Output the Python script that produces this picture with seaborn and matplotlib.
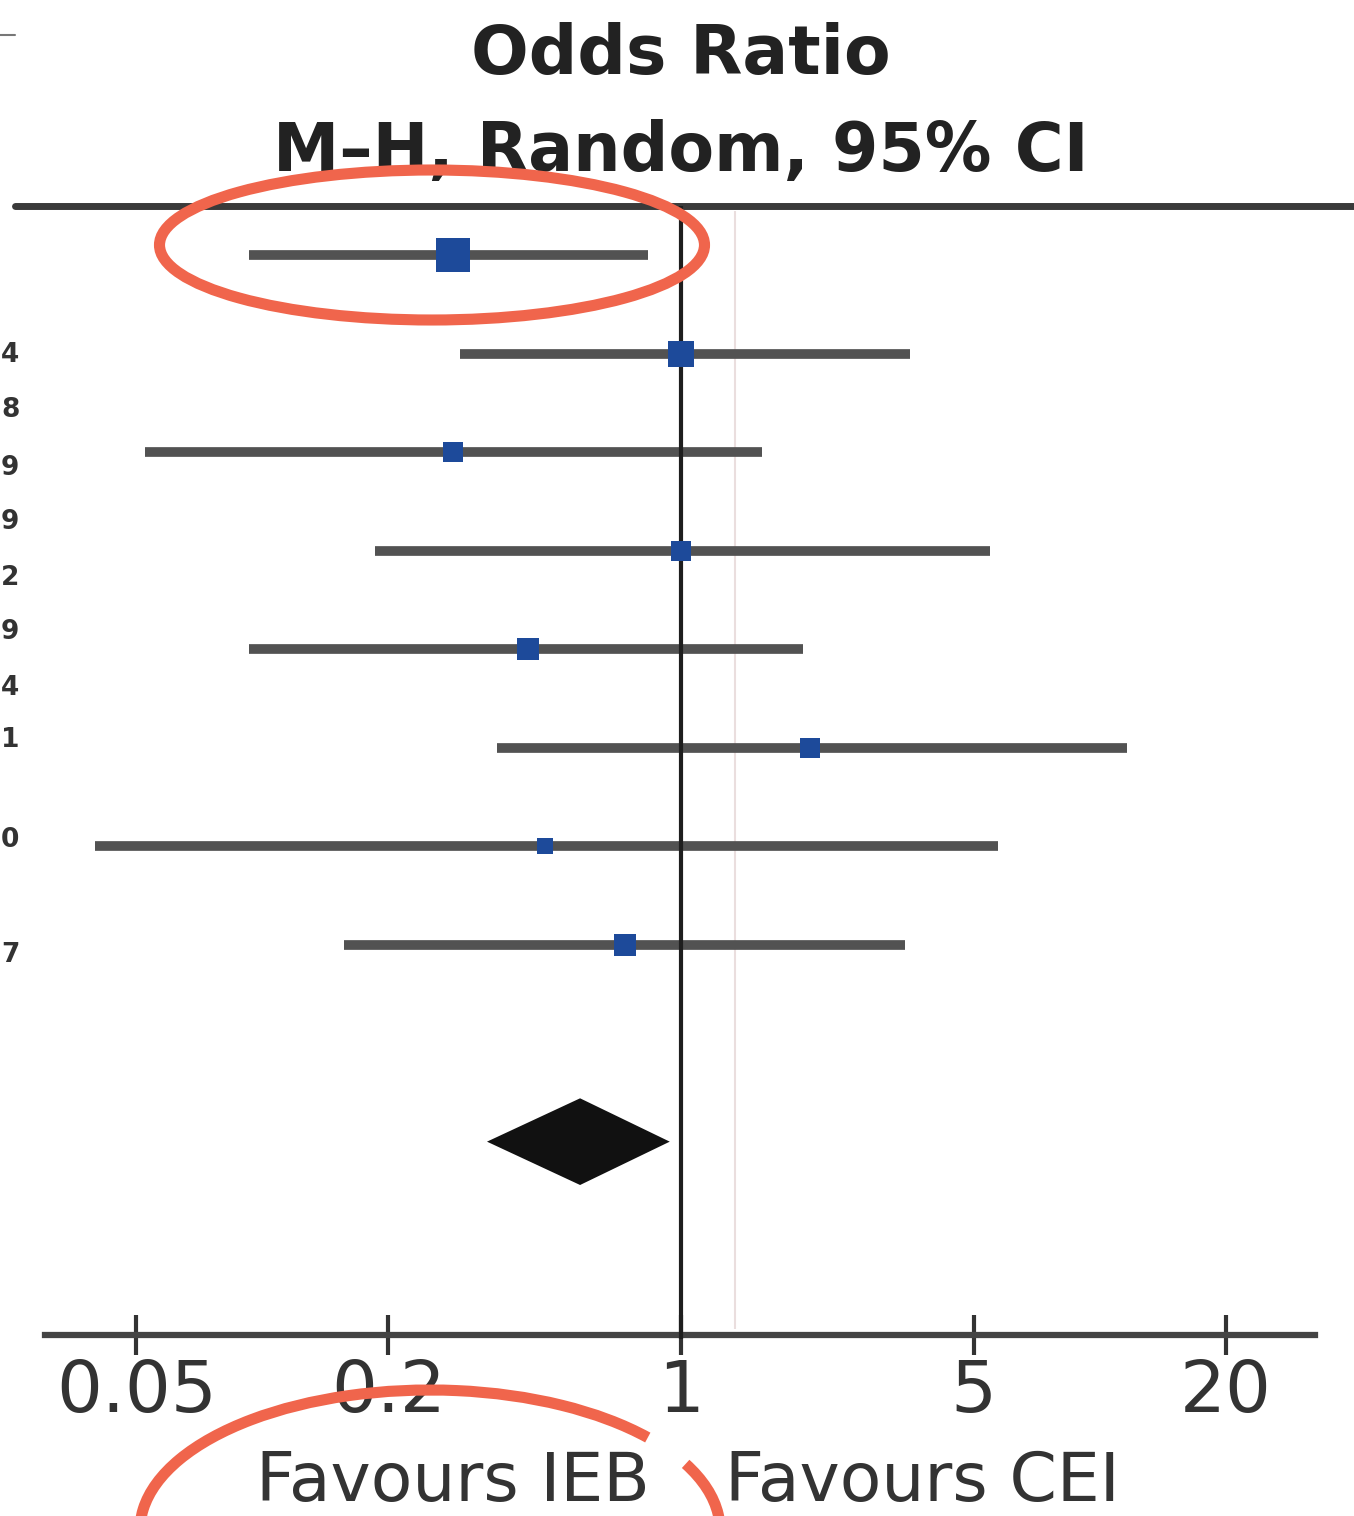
import numpy as np
import pandas as pd
import matplotlib
matplotlib.use('Agg')
import matplotlib.pyplot as plt
from matplotlib.patches import Ellipse, Arc
import seaborn as sns

# dados (odds ratio e IC 95%)
or_est = [0.285, 1.00, 0.285, 1.00, 0.431, 2.03, 0.473, 0.735]
ci_low = [0.093, 0.297, 0.0524, 0.186, 0.093, 0.363, 0.0398, 0.157]
ci_high = [0.834, 3.52, 1.56, 5.47, 1.96, 11.6, 5.72, 3.43]
weights = [27.2, 15.9, 9.4, 9.4, 11.4, 9.4, 6.0, 11.4]

pooled = [0.344, 0.574, 0.94]  # limite inferior, estimativa, limite superior

tick_vals = [0.05, 0.2, 1, 5, 20]
tick_labels = ['0.05', '0.2', '1', '5', '20']
left_digits = ['4', '8', '9', '9', '2', '9', '4', '1', '0', '7']

df = pd.DataFrame({'row': np.arange(len(or_est)), 'or': or_est,
                   'lo': ci_low, 'hi': ci_high, 'weight': weights})

sns.set_style('white')
plt.rcParams['font.family'] = ['DejaVu Sans']

fig = plt.figure(figsize=(13.54, 15.16), dpi=100)
ax = fig.add_axes([0, 0, 1, 1])
ax.set_xscale('log')
ax.set_xlim(10 ** (-681 / 418.6), 10 ** ((1354 - 681) / 418.6))
ax.set_ylim(12.80, -2.589)

# linhas dos intervalos
ax.hlines(df['row'], df['lo'], df['hi'], color='#525252', lw=7, zorder=2)

# linha de nulidade
ax.vlines(1, -0.5, 11, color='#1e1e1e', lw=3, zorder=3)
ax.vlines(1.346, -0.45, 10.9, color='#eadede', lw=1.5, zorder=1)

# quadrados com tamanho pelo peso
wmin, wmax = min(weights), max(weights)
sns.scatterplot(data=df, x='or', y='row', size='weight',
                sizes=(wmin * 22, wmax * 22), size_norm=(wmin, wmax),
                marker='s', color='#1d4a9a', linewidth=0, legend=False,
                ax=ax, zorder=4)

# diamante do efeito combinado
prow = len(or_est) + 1
ax.fill([pooled[0], pooled[1], pooled[2], pooled[1]],
        [prow, prow - 0.44, prow, prow + 0.44],
        color='#111111', zorder=4, lw=0)

# linha do cabeçalho
ax.axhline(-0.5, xmin=15 / 1354, xmax=1, color='#3a3a3a', lw=5)
ax.text(1, -2.03, 'Odds Ratio', ha='center', va='center',
        fontsize=49, fontweight='bold', color='#222222')
ax.text(1, -1.05, 'M–H, Random, 95% CI', ha='center', va='center',
        fontsize=48, fontweight='bold', color='#222222')

# eixo x
for s in ['top', 'right', 'left']:
    ax.spines[s].set_visible(False)
ax.spines['bottom'].set_position(('data', 10.96))
ax.spines['bottom'].set_bounds(0.0303, 32.7)
ax.spines['bottom'].set_linewidth(4.5)
ax.spines['bottom'].set_color('#444444')
ax.set_xticks(tick_vals)
ax.set_xticklabels(tick_labels)
ax.xaxis.set_minor_locator(matplotlib.ticker.NullLocator())
ax.tick_params(axis='x', which='major', bottom=True, direction='inout',
               length=29, width=3, color='#333333', labelsize=52,
               labelcolor='#333333', pad=2)
ax.set_yticks([])
ax.set_xlabel('')
ax.set_ylabel('')

fig.text(453 / 1354, 1 - 1482 / 1516, 'Favours IEB', ha='center', va='center',
         fontsize=49, color='#333333')
fig.text(922 / 1354, 1 - 1482 / 1516, 'Favours CEI', ha='center', va='center',
         fontsize=49, color='#333333')

# restos da tabela cortada à esquerda
ypix = [355, 410, 468, 522, 578, 632, 688, 740, 840, 955]
for d, yp in zip(left_digits, ypix):
    fig.text(1 / 1354, 1 - yp / 1516, d, ha='left', va='center',
             fontsize=19, fontweight='bold', color='#333333')
fig.add_artist(plt.Line2D([0, 15 / 1354], [1 - 35 / 1516] * 2,
                          transform=fig.transFigure, color='#777777', lw=1.5))

# marcações em vermelho
red = '#f0654c'
ax.add_patch(Ellipse((4.32, 12.71), 5.45, 1.50, angle=0,
                     transform=fig.dpi_scale_trans, fill=False,
                     edgecolor=red, lw=8, zorder=6, clip_on=False))
ax.add_patch(Arc((4.30, -0.14), 5.8, 2.8, theta1=23, theta2=374.5,
                 transform=fig.dpi_scale_trans, edgecolor=red, lw=8,
                 zorder=6, clip_on=False))

plt.savefig('out.png', dpi=100)
